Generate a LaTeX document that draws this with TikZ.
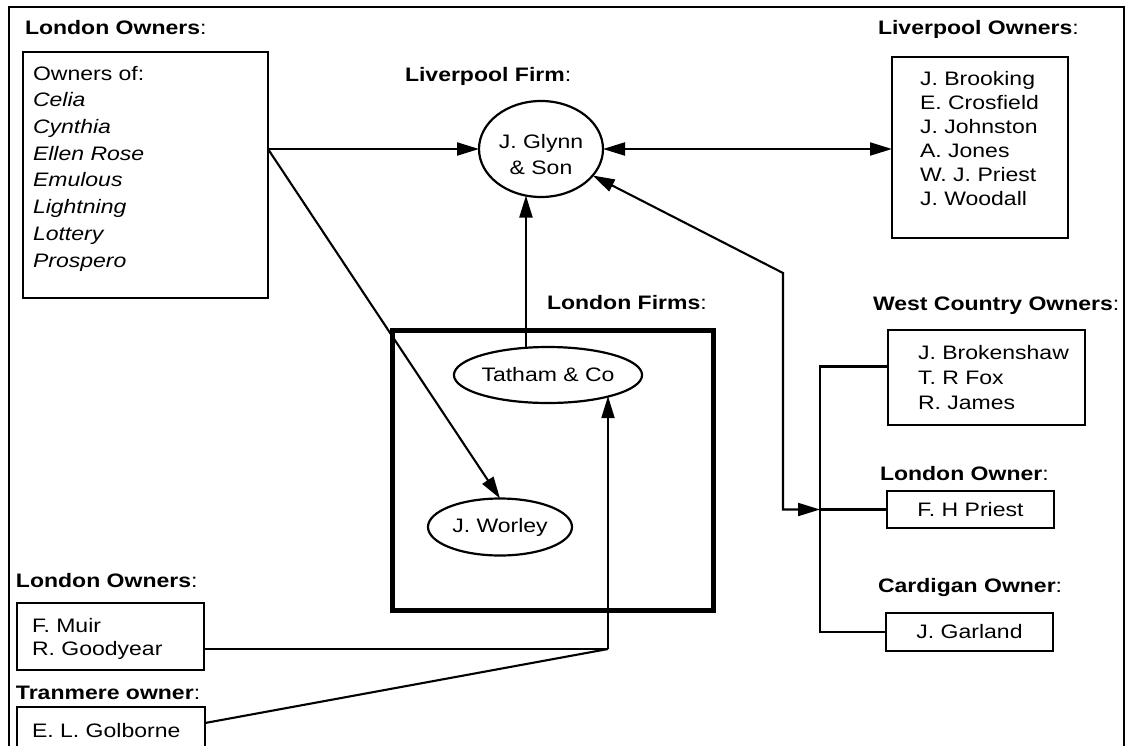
\documentclass[tikz,border=0pt]{standalone}
\usepackage{fontspec}
\setmainfont{Liberation Sans}[FakeStretch=1.18]
\usetikzlibrary{arrows.meta,shapes.geometric,calc}
\newcommand{\tstr}{\rule{0pt}{14pt}}
\begin{document}
\begin{tikzpicture}[x=1pt,y=-1pt,
  every node/.style={inner sep=0pt, outer sep=0pt},
  txt/.style={font=\fontsize{19.5}{24}\selectfont, align=left, anchor=north west},
  head/.style={font=\fontsize{19.5}{24}\selectfont, anchor=base west},
  box/.style={draw, line width=2pt, rectangle, anchor=north west, font=\fontsize{19.5}{24}\selectfont},
  oval/.style={draw, line width=2.2pt, ellipse, font=\fontsize{19.5}{24}\selectfont},
  conn/.style={line width=2.1pt},
  arr/.style={conn, -{Triangle[length=22pt,width=13pt]}},
  arrb/.style={conn, {Triangle[length=22pt,width=13pt]}-{Triangle[length=22pt,width=13pt]}},
]
\useasboundingbox (0,0) rectangle (1129,745);
% outer frame
\draw[line width=1.8pt] (9,750) -- (9,7) -- (1124,7) -- (1124,750);

% headings
\node[head] (hlo) at (25,34) {\textbf{London Owners}:};
\node[head] (hlf) at (405,81) {\textbf{Liverpool Firm}:};
\node[head] (hlv) at (878,34) {\textbf{Liverpool Owners}:};
\node[head] (hfirms) at (547,309) {\textbf{London Firms}:};
\node[head] (hwc) at (873,310) {\textbf{West Country Owners}:};
\node[head] (hlon) at (880,480) {\textbf{London Owner}:};
\node[head] (hcar) at (878,592) {\textbf{Cardigan Owner}:};
\node[head] (hlo2) at (16,587) {\textbf{London Owners}:};
\node[head] (htr) at (16,699) {\textbf{Tranmere owner}:};

% boxes
\node[box, minimum width=245, minimum height=246] (lo) at (23,52) {};
\node[txt, font=\fontsize{19.5}{26.7}\selectfont] (lot) at (33,66)
  {\tstr Owners of:\\\textit{Celia}\\\textit{Cynthia}\\\textit{Ellen Rose}\\\textit{Emulous}\\\textit{Lightning}\\\textit{Lottery}\\\textit{Prospero}};

\node[box, minimum width=176, minimum height=181] (lv) at (892,57) {};
\node[txt, font=\fontsize{19.5}{24}\selectfont] (lvt) at (920,71)
  {\tstr J. Brooking\\E. Crosfield\\J. Johnston\\A. Jones\\W. J. Priest\\J. Woodall};

\node[box, minimum width=197, minimum height=95] (wc) at (888,330) {};
\node[txt, font=\fontsize{19.5}{25}\selectfont] (wct) at (918,345)
  {\tstr J. Brokenshaw\\T. R Fox\\R. James};

\node[box, minimum width=167, minimum height=37] (fhp) at (887,491) {F. H Priest};
\node[box, minimum width=167, minimum height=38] (jg) at (886,613) {J. Garland};

\node[box, minimum width=187, minimum height=67] (fm) at (17,603) {};
\node[txt, font=\fontsize{19.5}{23}\selectfont] (fmt) at (32,618)
  {\tstr F. Muir\\R. Goodyear};

\node[box, minimum width=188, minimum height=40] (elg) at (17,707) {};
\node[head] (elgt) at (32,737) {E. L. Golborne};

\node[draw, line width=5pt, anchor=north west, minimum width=321, minimum height=280] (firms) at (392,330) {};

% ellipses
\node[oval, minimum width=124, minimum height=96] (glynn) at (541,149) {};
\node[font=\fontsize{19.5}{26}\selectfont, align=center] (glynnt) at (541,155) {J. Glynn\\\& Son};
\node[oval, minimum width=182, minimum height=56] (tatham) at (548,375) {Tatham \& Co};
\node[oval, minimum width=144, minimum height=57] (worley) at (500,527) {J. Worley};

% connectors
\coordinate (lj) at (lo.east |- glynn.west);
\draw[arr] (lj) -- (glynn.west);
\draw[arr] (lj) -- (worley.north);
\draw[arrb] (glynn.east) -- (glynn.east -| lv.west);
\draw[arr] (tatham.129) -- (tatham.129 |- glynn.252);

\coordinate (bend) at (783,273);
\coordinate (jn) at ($(fhp.west)+(-67,0)$);
\draw[arrb] (glynn) -- (bend) -- (bend |- jn) -- (jn);
\draw[conn] ([yshift=11pt]wc.west) -| ($(jg.west)+(-66,0)$) -- (jg.west);
\draw[conn] (fhp.west) -- (jn);

\coordinate (mj) at (608,649);
\draw[conn] (fm.east |- mj) -- (mj);
\draw[conn] ([yshift=4pt]elg.east) -- (mj);
\draw[arr] (mj) -- (mj |- tatham.-19);
\end{tikzpicture}
\end{document}
